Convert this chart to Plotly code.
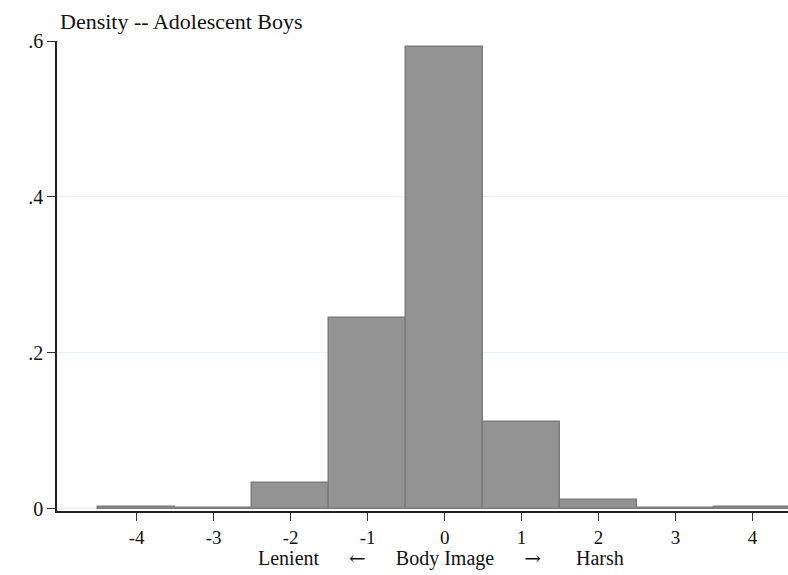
import plotly.graph_objects as go

bin_centers = [-4, -3, -2, -1, 0, 1, 2, 3, 4]
density = [0.0025, 0.0015, 0.0335, 0.2445, 0.5925, 0.1108, 0.0118, 0.0016, 0.0024]
x_ticks = [-4, -3, -2, -1, 0, 1, 2, 3, 4]
x_tick_labels = ["-4", "-3", "-2", "-1", "0", "1", "2", "3", "4"]
y_ticks = [0, 0.2, 0.4, 0.6]
y_tick_labels = ["0", ".2", ".4", ".6"]

FONT = "Liberation Serif, Times New Roman, serif"
ARROW = "<span style='font-family:DejaVu Serif'>{}</span>"
SP = "&nbsp;"

fig = go.Figure()
fig.add_trace(go.Bar(
    x=bin_centers, y=density, width=1,
    marker=dict(color="#939393", line=dict(color="#7b7b7b", width=1.5)),
    hoverinfo="skip",
))

xtitle = ("Lenient" + SP * 6 + ARROW.format("←") + SP * 6 + "Body Image" + SP * 6
          + ARROW.format("→") + SP * 7 + "Harsh")

fig.update_layout(
    width=788, height=575,
    margin=dict(l=57, r=0, t=41, b=64),
    paper_bgcolor="white", plot_bgcolor="white",
    showlegend=False, bargap=0,
    font=dict(family=FONT, size=19, color="#111111"),
    xaxis=dict(
        range=[-5.035, 4.46], tickmode="array", tickvals=x_ticks, ticktext=x_tick_labels,
        showgrid=False, zeroline=False, showline=True, linecolor="#222222", linewidth=1.5,
        ticks="outside", ticklen=8, tickcolor="#333333", tickwidth=1.3,
        tickfont=dict(family=FONT, size=19, color="#111111"),
    ),
    yaxis=dict(
        range=[-0.0027, 0.6], tickmode="array", tickvals=y_ticks, ticktext=y_tick_labels,
        showgrid=True, gridcolor="#e8f0f2", gridwidth=1, zeroline=False,
        showline=True, linecolor="#222222", linewidth=1.5,
        ticks="outside", ticklen=8, tickcolor="#333333", tickwidth=1.3,
        tickfont=dict(family=FONT, size=20, color="#111111"),
    ),
    annotations=[
        dict(text="Density -- Adolescent Boys", xref="paper", yref="paper", x=0, y=1,
             xanchor="left", yanchor="bottom", xshift=1, yshift=5, showarrow=False,
             font=dict(family=FONT, size=22, color="#111111")),
        dict(text=xtitle,
             xref="x", yref="paper", x=-0.05, y=0, xanchor="center", yanchor="middle",
             yshift=-47, showarrow=False,
             font=dict(family=FONT, size=20, color="#111111")),
    ],
)

fig.write_html("out.html", config={"displayModeBar": False},
               post_script="document.body.style.margin='0';document.body.style.overflow='hidden';")
